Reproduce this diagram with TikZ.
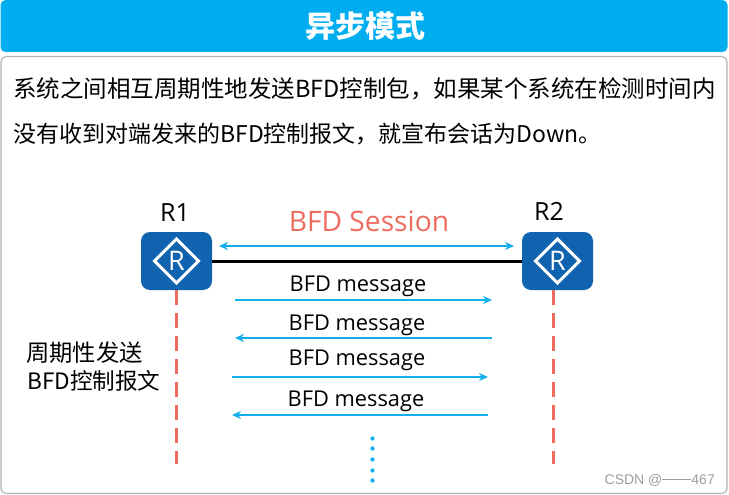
\documentclass[tikz,border=0pt]{standalone}
\usepackage{fontspec}
\setmainfont{Open Sans}
\newfontfamily\cjk{Noto Sans CJK SC}
\newfontfamily\wmfont{Liberation Sans}
\definecolor{hdr}{HTML}{00AEEF}
\definecolor{arrowblue}{HTML}{13B0EE}
\definecolor{salmon}{HTML}{EE6C5F}
\definecolor{routerblue}{HTML}{1063AE}
\definecolor{frame}{HTML}{B4B4B4}
\usetikzlibrary{arrows.meta,calc}
\tikzset{
  x=1pt,y=-1pt,
  lbl/.style={inner sep=0pt,text=black,font=\fontsize{21.8}{24}\selectfont},
  body/.style={inner sep=0pt,anchor=west,text=black,font=\fontsize{23.5}{26}\cjk\selectfont},
  msg/.style={draw=arrowblue,line width=2.4pt,-{Stealth[length=9pt,width=8pt]}},
  life/.style={draw=salmon,line width=3pt,dash pattern=on 15pt off 8pt},
  router/.style={fill=routerblue,rounded corners=9pt,minimum width=71pt,minimum height=58pt,inner sep=0pt}
}
\newcommand{\routermark}[1]{
  \draw[white,line width=3pt,join=miter] ($(#1)+(-22,0)$) -- ($(#1)+(0,-22)$) -- ($(#1)+(22,0)$) -- ($(#1)+(0,22)$) -- cycle;
  \node[text=white,inner sep=0pt,font=\fontsize{27}{27}\selectfont] at (#1) {R};
}
\begin{document}
\begin{tikzpicture}
\useasboundingbox (0,0) rectangle (729,495);
\fill[white] (0,0) rectangle (729,495);
\node[fill=hdr,rounded corners=5pt,minimum width=727pt,minimum height=52pt,inner sep=0pt] (head) at (364,26) {};
\node[text=white,inner sep=0pt,font=\fontsize{30}{32}\cjk\bfseries\selectfont] at (365,26) {异步模式};
\node[draw=frame,line width=1.2pt,rounded corners=5pt,minimum width=726pt,minimum height=437pt,inner sep=0pt] (panel) at (364,275) {};
\node[body] (l1) at (13,89) {系统之间相互周期性地发送BFD控制包，如果某个系统在检测时间内};
\node[body,font=\fontsize{23}{26}\cjk\selectfont] (l2) at (13,134) {没有收到对端发来的BFD控制报文，就宣布会话为Down。};

\node[router] (r1) at (176.5,261) {};
\node[router] (r2) at (557.5,261) {};
\routermark{r1}
\routermark{r2}
\node[lbl,font=\fontsize{25}{28}\selectfont] (t1) at (175,213) {R1};
\node[lbl,font=\fontsize{25}{28}\selectfont] (t2) at (549,211) {R2};
\draw[black,line width=3pt] (r1) -- (r2);
\node[inner sep=0pt,text=salmon,font=\fontsize{28.2}{30}\selectfont] (sess) at (369,221) {BFD Session};
\coordinate (s1) at (219,246); \coordinate (s2) at (514,246);
\draw[draw=arrowblue,line width=2.4pt,{Stealth[length=9pt,width=8pt]}-{Stealth[length=9pt,width=8pt]}] (s1) -- (s2);

\coordinate (a1) at (235,300); \coordinate (a2) at (492,300);
\coordinate (b1) at (492,338); \coordinate (b2) at (235,338);
\coordinate (c1) at (232,377); \coordinate (c2) at (488,377);
\coordinate (d1) at (488,415); \coordinate (d2) at (232,415);
\draw[msg] (a1) -- (a2);
\draw[msg] (b1) -- (b2);
\draw[msg] (c1) -- (c2);
\draw[msg] (d1) -- (d2);
\node[lbl] (m1) at (358,286) {BFD message};
\node[lbl] (m2) at (357,325) {BFD message};
\node[lbl] (m3) at (357,360) {BFD message};
\node[lbl] (m4) at (356,401) {BFD message};

\coordinate (e1) at (176.5,464); \coordinate (e2) at (553,464);
\coordinate (o1) at (176.5,290); \coordinate (o2) at (553,290);
\draw[life] (o1) -- (e1);
\draw[life] (o2) -- (e2);

\node[inner sep=0pt,anchor=west,font=\fontsize{23.3}{26}\cjk\selectfont] (p1) at (26,353) {周期性发送};
\node[inner sep=0pt,anchor=west,font=\fontsize{22.6}{26}\cjk\selectfont] (p2) at (27,381) {BFD控制报文};

\foreach \y in {438.5,448.5,459.5,470.5,480.5}
  \fill[arrowblue] (372.5,\y) circle (2.2pt);

\node[inner sep=0pt,anchor=east,text=black!38,font=\fontsize{14}{16}\wmfont\selectfont] (wm) at (715,480) {CSDN @\rule[4.5pt]{29pt}{0.6pt}467};
\end{tikzpicture}
\end{document}
